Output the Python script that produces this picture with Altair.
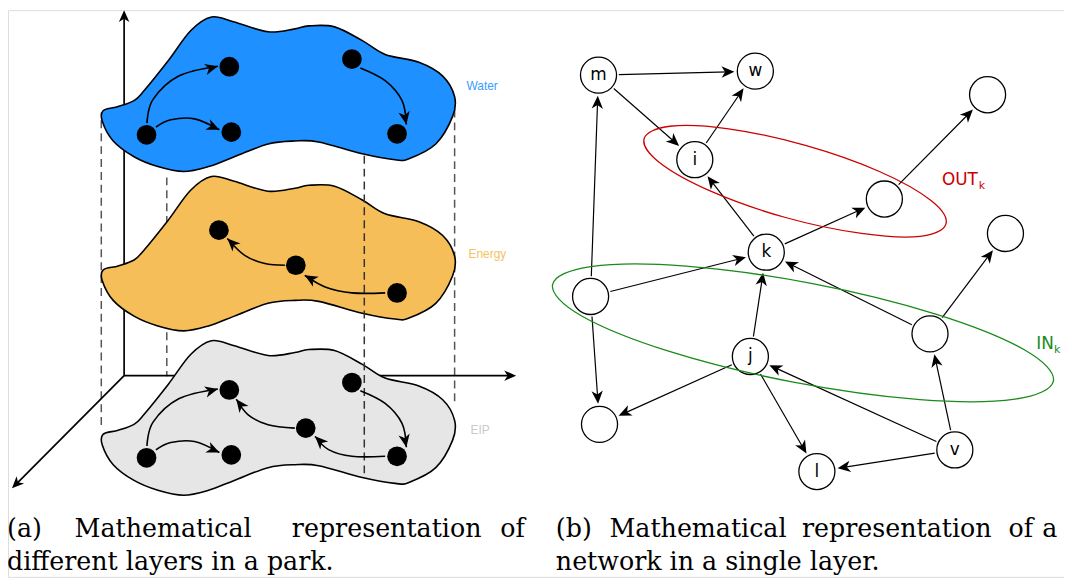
import math
import altair as alt
import pandas as pd

# ------------------------------------------------------------------
# (a) three layers of a park: one outline (read off the Water layer),
#     repeated lower down for Energy and EIP
# ------------------------------------------------------------------
outline_x = [104, 119, 135, 145, 169, 192, 213, 236, 270, 297, 311, 337, 365, 388, 422, 446, 458,
             456, 439, 412, 398, 365, 321, 297, 270, 236, 210, 185, 159, 135, 114, 103]
outline_y = [108, 104, 98, 88, 58, 27, 13, 18, 28, 25, 22, 23, 37, 51, 59, 73, 94,
             114, 142, 157, 158, 152, 140, 139, 142, 155, 165, 170, 165, 155, 139, 119]
layer_names = ["Water", "Energy", "EIP"]
layer_shift = [0, 162, 329]
layer_fill = ["#1e90ff", "#f6be58", "#e6e6e6"]
layer_text_color = ["#3b9cff", "#f5c25e", "#c9c9c9"]
layer_text_x = [470, 472, 474]
layer_text_y = [87, 258, 437]

# black nodes of the layers
dot_x = [147.6, 231, 233, 354.5, 400, 220.5, 298, 400, 147.6, 231, 233, 354.5, 308, 400]
dot_y = [132.7, 63.5, 130, 55.7, 131.7, 229.6, 265.3, 293.4, 461, 392, 458, 384.5, 430.8, 459.5]

# curved arrows (last point = arrow tip)
curve_x = [
    [148, 154, 180, 219.5],
    [157, 172, 196, 221],
    [363, 388, 405, 409.4],
    [287, 266.8, 246.5, 229],
    [388, 354.5, 327.5, 307],
    [148, 154, 180, 219.5],
    [157, 172, 196, 221],
    [363, 388, 405, 409.4],
    [297, 270, 250, 238],
    [388, 354.5, 331, 317.4],
]
curve_y = [
    [121, 97, 73, 63],
    [125, 117.5, 116.5, 127.6],
    [64.8, 77.7, 98, 122.2],
    [265.3, 263.6, 255.2, 238],
    [293.4, 293.4, 287.3, 275.5],
    [449, 425, 401, 391],
    [453, 445.5, 444.5, 455.6],
    [392.8, 405.7, 426, 450.2],
    [430.8, 427.4, 417.3, 401.4],
    [459.5, 459.5, 452.7, 439.2],
]

# 3D axes: common origin and three tips
axis_origin = (125, 377.5)
axis_tip_x = [125, 520, 12]
axis_tip_y = [6, 377.5, 492]

# dashed guide lines
dash_x = [102, 168, 458, 367]
dash_top = [118, 176, 107, 154]
dash_bottom = [430, 378, 407, 481]
dash_front = [0, 0, 0, 1]

# ------------------------------------------------------------------
# (b) network in a single layer
# ------------------------------------------------------------------
node_label = ["m", "w", "i", "", "", "", "k", "", "j", "", "", "l", "v"]
node_x = [603, 761, 700, 891, 995, 1013, 772, 595, 756, 937, 604, 823, 962]
node_y = [72, 68, 158, 198, 92, 233, 252, 297, 358, 335, 427, 475, 453]
edge_from = [0, 0, 2, 6, 6, 3, 7, 7, 7, 8, 8, 8, 9, 9, 12, 12, 12]
edge_to = [1, 2, 1, 2, 3, 4, 0, 6, 10, 6, 10, 11, 6, 5, 9, 8, 11]

out_x = [953, 927, 868, 790.5, 716, 664, 649, 675, 734, 811.5, 886, 938]
out_y = [223.5, 236, 233, 216.5, 190, 160.6, 136.5, 124, 126.6, 143.5, 170, 199.5]
in_x = [1061.3, 1022.6, 926.8, 799.3, 674.4, 585.6, 556.7, 595.4, 691.2, 818.7, 943.6, 1032.4]
in_y = [383, 401.4, 401.9, 384.1, 352.9, 316.6, 285, 266.6, 266.2, 284, 315.2, 351.4]
set_text = ["OUT", "IN"]
set_x = [949, 1044]
set_y = [184, 350]
set_sub_x = [986, 1062]
set_sub_y = [188, 354]
set_color = ["#cc0000", "#1a8a1a"]

# captions (justified first lines are set word by word)
cap_text = ["(a)", "Mathematical", "representation", "of", "different layers in a park.",
            "(b)", "Mathematical", "representation", "of", "a", "network in a single layer."]
cap_x = [7, 75, 294, 504, 7, 560, 614, 808, 1016, 1050, 560]
cap_y = [542, 542, 542, 542, 575, 542, 542, 542, 542, 542, 575]

# ------------------------------------------------------------------
R_NODE = 20.5
ARROW = "M0,0 L0.44,1 L0,0.72 L-0.44,1 Z"


def ang(dx, dy):
    return (math.degrees(math.atan2(dx, -dy)) + 360.0) % 360.0


xs = alt.Scale(domain=[8, 1072], nice=False, zero=False)
ys = alt.Scale(domain=[6, 582], nice=False, zero=False, reverse=True)


def XY(ch, xf="x", yf="y", **kw):
    return ch.encode(x=alt.X(f"{xf}:Q", scale=xs, axis=None),
                     y=alt.Y(f"{yf}:Q", scale=ys, axis=None), **kw)


# blobs
blob_rows = []
for li, name in enumerate(layer_names):
    for i, (px, py) in enumerate(zip(outline_x, outline_y)):
        blob_rows.append({"g": name, "i": i, "x": px, "y": py + layer_shift[li],
                          "fill": layer_fill[li]})
blobs = XY(alt.Chart(pd.DataFrame(blob_rows)).mark_line(
    interpolate="cardinal-closed", stroke="black", strokeWidth=1.6),
    order=alt.Order("i:Q"), detail=alt.Detail("g:N"),
    fill=alt.Fill("fill:N", scale=None))

layer_txt = XY(alt.Chart(pd.DataFrame({"x": layer_text_x, "y": layer_text_y, "t": layer_names,
                                       "c": layer_text_color})).mark_text(
    align="left", baseline="alphabetic", font="Liberation Sans", fontSize=12),
    text="t:N", color=alt.Color("c:N", scale=None))

# dashed guides
dash_df = pd.DataFrame({"x": dash_x, "y": dash_top, "y2": dash_bottom, "f": dash_front})
dash_back = XY(alt.Chart(dash_df[dash_df.f == 0]).mark_rule(
    color="#555555", strokeWidth=1.5, strokeDash=[8, 5]), y2=alt.Y2("y2:Q"))
dash_fr = XY(alt.Chart(dash_df[dash_df.f == 1]).mark_rule(
    color="#333333", strokeWidth=1.5, strokeDash=[8, 5]), y2=alt.Y2("y2:Q"))

# axes
ax_rows, ax_heads = [], []
for tx, ty in zip(axis_tip_x, axis_tip_y):
    dx, dy = tx - axis_origin[0], ty - axis_origin[1]
    d = math.hypot(dx, dy)
    ax_rows.append({"x": axis_origin[0], "y": axis_origin[1],
                    "x2": tx - dx / d * 5, "y2": ty - dy / d * 5})
    ax_heads.append({"x": tx, "y": ty, "a": ang(dx, dy)})
axes = XY(alt.Chart(pd.DataFrame(ax_rows)).mark_rule(color="black", strokeWidth=1.7),
          x2=alt.X2("x2:Q"), y2=alt.Y2("y2:Q"))
axes_h = XY(alt.Chart(pd.DataFrame(ax_heads)).mark_point(
    shape=ARROW, filled=True, color="black", opacity=1, size=4 * 12 * 12),
    angle=alt.Angle("a:Q", scale=None))

# curves
c_rows, c_heads = [], []
for ci, (cx, cy) in enumerate(zip(curve_x, curve_y)):
    for i, (px, py) in enumerate(zip(cx, cy)):
        c_rows.append({"g": ci, "i": i, "x": px, "y": py})
    c_heads.append({"x": cx[-1], "y": cy[-1], "a": ang(cx[-1] - cx[-2], cy[-1] - cy[-2])})
curves = XY(alt.Chart(pd.DataFrame(c_rows)).mark_line(
    interpolate="cardinal", color="black", strokeWidth=1.6),
    order=alt.Order("i:Q"), detail=alt.Detail("g:N"))
curves_h = XY(alt.Chart(pd.DataFrame(c_heads)).mark_point(
    shape=ARROW, filled=True, color="black", opacity=1, size=4 * 13 * 13),
    angle=alt.Angle("a:Q", scale=None))
dots = XY(alt.Chart(pd.DataFrame({"x": dot_x, "y": dot_y})).mark_circle(
    color="black", opacity=1, size=math.pi * 11.2 ** 2))

# network edges
e_rows, e_heads = [], []
for s, t in zip(edge_from, edge_to):
    sx, sy, tx, ty = node_x[s], node_y[s], node_x[t], node_y[t]
    d = math.hypot(tx - sx, ty - sy)
    ux, uy = (tx - sx) / d, (ty - sy) / d
    hx, hy = tx - ux * (R_NODE + 0.6), ty - uy * (R_NODE + 0.6)
    e_rows.append({"x": sx + ux * R_NODE, "y": sy + uy * R_NODE,
                   "x2": hx - ux * 6, "y2": hy - uy * 6})
    e_heads.append({"x": hx, "y": hy, "a": ang(ux, uy)})
edges = XY(alt.Chart(pd.DataFrame(e_rows)).mark_rule(color="black", strokeWidth=1.2),
           x2=alt.X2("x2:Q"), y2=alt.Y2("y2:Q"))
edges_h = XY(alt.Chart(pd.DataFrame(e_heads)).mark_point(
    shape=ARROW, filled=True, color="black", opacity=1, size=4 * 13 * 13),
    angle=alt.Angle("a:Q", scale=None))
nodes = XY(alt.Chart(pd.DataFrame({"x": node_x, "y": node_y})).mark_point(
    shape="circle", filled=True, fill="white", stroke="black", strokeWidth=1.3,
    opacity=1, size=math.pi * R_NODE ** 2))
node_txt = XY(alt.Chart(pd.DataFrame({"x": node_x, "y": node_y, "t": node_label})).mark_text(
    align="center", baseline="middle", font="DejaVu Sans", fontSize=17, color="black"),
    text="t:N")

# ellipses
el_rows = []
for name, ex, ey, col in [("out", out_x, out_y, set_color[0]), ("in", in_x, in_y, set_color[1])]:
    for i, (px, py) in enumerate(zip(ex, ey)):
        el_rows.append({"g": name, "i": i, "x": px, "y": py, "c": col})
ellipses = XY(alt.Chart(pd.DataFrame(el_rows)).mark_line(
    interpolate="cardinal-closed", strokeWidth=1.3),
    order=alt.Order("i:Q"), detail=alt.Detail("g:N"), color=alt.Color("c:N", scale=None))
set_df = pd.DataFrame({"x": set_x, "y": set_y, "t": set_text, "c": set_color,
                       "sx": set_sub_x, "sy": set_sub_y, "k": ["k", "k"]})
set_txt = XY(alt.Chart(set_df).mark_text(align="left", baseline="alphabetic",
                                         font="DejaVu Sans", fontSize=17),
             text="t:N", color=alt.Color("c:N", scale=None))
set_sub = XY(alt.Chart(set_df).mark_text(align="left", baseline="alphabetic",
                                         font="DejaVu Sans", fontSize=11),
             xf="sx", yf="sy", text="k:N", color=alt.Color("c:N", scale=None))

# captions
captions = XY(alt.Chart(pd.DataFrame({"x": cap_x, "y": cap_y, "t": cap_text})).mark_text(
    align="left", baseline="alphabetic", font="DejaVu Serif", fontSize=25.5, color="black"),
    text="t:N")

chart = alt.layer(
    dash_back, axes, axes_h, blobs, dash_fr, curves, curves_h, dots, layer_txt,
    edges, edges_h, nodes, node_txt, ellipses, set_txt, set_sub, captions
).properties(width=1064, height=571, padding=0, autosize="none").configure_view(
    strokeWidth=0).configure(background="white")

chart.save("out.html", embed_options={"renderer": "svg", "actions": False})
